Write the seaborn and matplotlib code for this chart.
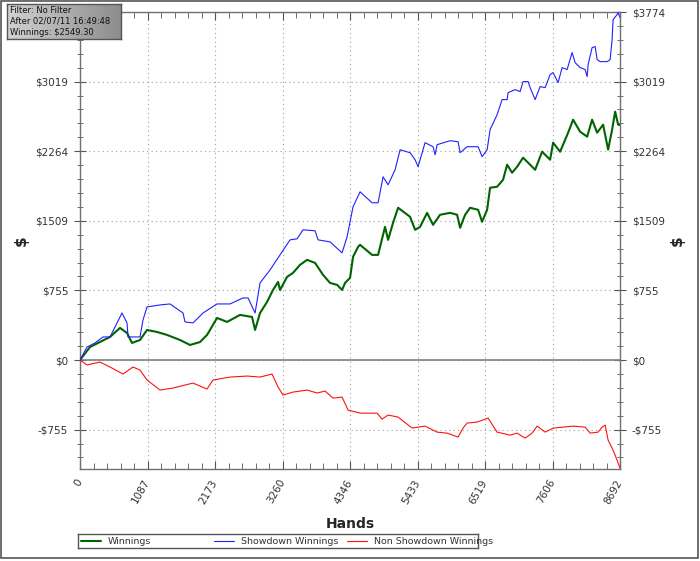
import numpy as np
import pandas as pd
import matplotlib
matplotlib.use("Agg")
import matplotlib.pyplot as plt
from matplotlib.patches import Rectangle
from matplotlib.ticker import MultipleLocator
import seaborn as sns

# values (hands, dollars)
blue_hands = [0, 113, 242, 370, 483, 644, 676, 757, 773, 966, 1014, 1079, 1288, 1449, 1658, 1690,
              1819, 1980, 2206, 2415, 2624, 2705, 2818, 2898, 3059, 3188, 3381, 3494, 3590, 3784,
              3832, 4025, 4218, 4299, 4395, 4508, 4701, 4798, 4878, 4959, 5072, 5152, 5313, 5394,
              5442, 5554, 5683, 5716, 5748, 5957, 6086, 6118, 6231, 6408, 6472, 6553, 6601, 6714,
              6794, 6875, 6891, 7004, 7084, 7132, 7213, 7245, 7326, 7406, 7487, 7567, 7615, 7696,
              7760, 7841, 7921, 7970, 8050, 8131, 8163, 8179, 8243, 8292, 8324, 8372, 8485, 8533,
              8565, 8581, 8646, 8662, 8692]
blue_vals = [0, 141, 185, 250, 250, 467, 510, 402, 250, 250, 434, 576, 597, 608, 510, 413,
             402, 510, 608, 608, 673, 673, 510, 836, 977, 1108, 1303, 1314, 1412, 1401,
             1303, 1281, 1162, 1336, 1662, 1824, 1705, 1705, 1987, 1900, 2063, 2280, 2248, 2172,
             2096, 2357, 2313, 2226, 2335, 2378, 2367, 2248, 2313, 2313, 2205, 2280, 2498, 2661,
             2824, 2824, 2900, 2932, 2911, 3019, 3019, 2954, 2824, 2965, 2954, 3095, 3117, 3008,
             3171, 3150, 3334, 3225, 3171, 3150, 3073, 3204, 3388, 3399, 3258, 3236, 3236, 3258,
             3475, 3692, 3746, 3768, 3714]

green_hands = [0, 161, 483, 644, 757, 837, 966, 1079, 1240, 1401, 1610, 1771, 1932, 2045, 2206,
               2367, 2576, 2769, 2818, 2898, 3011, 3107, 3188, 3220, 3333, 3429, 3542, 3655, 3784,
               3912, 4025, 4138, 4218, 4267, 4347, 4395, 4476, 4508, 4701, 4798, 4910, 4959, 5039,
               5120, 5313, 5394, 5474, 5587, 5683, 5796, 5957, 6070, 6118, 6199, 6279, 6408, 6472,
               6553, 6601, 6714, 6810, 6875, 6955, 7036, 7132, 7245, 7326, 7438, 7567, 7615, 7728,
               7857, 7937, 8050, 8163, 8243, 8324, 8420, 8501, 8565, 8614, 8662, 8692]
green_vals = [0, 141, 250, 348, 293, 185, 217, 326, 304, 272, 217, 163, 195, 272, 456,
              413, 489, 467, 326, 510, 630, 760, 847, 760, 901, 945, 1032, 1086, 1053,
              923, 836, 815, 760, 836, 891, 1119, 1227, 1249, 1140, 1140, 1444, 1303, 1488,
              1651, 1553, 1412, 1444, 1596, 1466, 1575, 1596, 1575, 1434, 1575, 1651, 1629, 1499,
              1629, 1868, 1879, 1955, 2118, 2031, 2096, 2194, 2118, 2063, 2259, 2172, 2357, 2259,
              2465, 2606, 2476, 2422, 2606, 2465, 2552, 2281, 2498, 2693, 2552, 2549]

red_hands = [0, 113, 322, 483, 692, 853, 966, 1079, 1288, 1497, 1819, 2045, 2141, 2415, 2689,
             2898, 3091, 3188, 3268, 3429, 3655, 3816, 3945, 4073, 4218, 4315, 4508, 4782, 4862,
             4959, 5120, 5345, 5554, 5748, 5909, 6086, 6166, 6231, 6392, 6569, 6714, 6923, 7036,
             7165, 7277, 7358, 7487, 7615, 7776, 7937, 8131, 8211, 8340, 8404, 8453, 8501, 8565,
             8614, 8692]
red_vals = [0, -54, -22, -76, -152, -76, -109, -217, -326, -304, -250, -315, -217, -185, -174,
            -185, -152, -293, -380, -348, -326, -358, -337, -413, -402, -543, -576, -576, -641,
            -597, -619, -738, -717, -782, -793, -836, -738, -684, -673, -630, -782, -815, -793,
            -847, -793, -717, -782, -738, -728, -717, -728, -793, -782, -728, -706, -869, -956,
            -1032, -1173]

x_ticks = [0, 1086.5, 2173, 3259.5, 4346, 5432.5, 6519, 7605.5, 8692]
x_labels = ["0", "1087", "2173", "3260", "4346", "5433", "6519", "7606", "8692"]
y_ticks = [-754.7, 0, 754.7, 1509.4, 2264.1, 3018.8, 3773.5]
y_labels = ["-$755", "$0", "$755", "$1509", "$2264", "$3019", "$3774"]

series = [
    ("Winnings", green_hands, green_vals, "#006400", 1.5),
    ("Showdown Winnings", blue_hands, blue_vals, "#2020ff", 0.8),
    ("Non Showdown Winnings", red_hands, red_vals, "#ff1010", 0.8),
]

sns.set_style("white")
plt.rcParams["font.family"] = ["DejaVu Sans"]

fig = plt.figure(figsize=(7.0, 5.61), dpi=100)
ax = fig.add_axes([80 / 700, 1 - 469 / 561, 540 / 700, 457 / 561])

for name, hx, hy, col, lw in series:
    df = pd.DataFrame({"Hands": hx, "Dollars": hy})
    sns.lineplot(data=df, x="Hands", y="Dollars", ax=ax, color=col, linewidth=lw,
                 estimator=None, sort=False, zorder=3)

ax.axhline(0, color="#808080", linewidth=1.2, zorder=2)
ax.set_xlim(0, 8692)
ax.set_ylim(-1182, 3774)

ax.set_xticks(x_ticks)
ax.set_xticklabels(x_labels, rotation=60, ha="right", va="center", rotation_mode="anchor",
                   fontsize=7.5, color="#333333")
ax.xaxis.set_minor_locator(MultipleLocator(1086.5 / 5))
ax.set_yticks(y_ticks)
ax.set_yticklabels(y_labels, fontsize=7.5, color="#333333")
ax.yaxis.set_minor_locator(MultipleLocator(754.7 / 5))

ax.tick_params(axis="x", which="both", direction="in", top=True, bottom=True, color="#555555")
ax.tick_params(axis="x", which="major", length=6, pad=8)
ax.tick_params(axis="x", which="minor", length=4)
ax.tick_params(axis="y", which="both", direction="inout", left=True, right=True,
               labelright=True, color="#555555")
ax.tick_params(axis="y", which="major", length=9, pad=4)
ax.tick_params(axis="y", which="minor", length=5)

# the top left label sits under the info box in the original
ax.yaxis.get_major_ticks()[-1].label1.set_visible(False)

ax.grid(True, which="major", color="#a0a0a0", linestyle=(0, (1, 3)), linewidth=0.8)
for s in ax.spines.values():
    s.set_color("#707070")
    s.set_linewidth(1.0)

ax.set_xlabel("Hands", fontsize=10, fontweight="bold")
ax.xaxis.set_label_coords(0.5, -0.105)
ax.set_ylabel("")
fig.text(21 / 700, 1 - 241 / 561, "$", rotation=90, fontsize=11, fontweight="bold",
         ha="center", va="center")
fig.text(677 / 700, 1 - 241 / 561, "$", rotation=90, fontsize=11, fontweight="bold",
         ha="center", va="center")

# legend strip
lax = fig.add_axes([78 / 700, 1 - 548 / 561, 400 / 700, 14 / 561])
lax.set_xlim(0, 400)
lax.set_ylim(0, 1)
lax.set_xticks([])
lax.set_yticks([])
for s in lax.spines.values():
    s.set_color("#555555")
    s.set_linewidth(1.0)
for i, (name, hx, hy, col, lw) in enumerate(series):
    x0 = 3 + i * 133
    lax.plot([x0, x0 + 20], [0.5, 0.5], color=col, linewidth=lw)
    lax.text(x0 + 27, 0.5, name, fontsize=6.8, va="center", ha="left", color="#333333")

# info box with gradient
iax = fig.add_axes([7 / 700, 1 - 39 / 561, 114 / 700, 35 / 561])
grad = np.linspace(0.82, 0.55, 200).reshape(1, -1)
iax.imshow(grad, cmap="gray", vmin=0, vmax=1, aspect="auto", extent=(0, 1, 0, 1))
iax.set_xticks([])
iax.set_yticks([])
for s in iax.spines.values():
    s.set_color("#555555")
    s.set_linewidth(1.0)
info_lines = ["Filter: No Filter", "After 02/07/11 16:49:48", "Winnings: $2549.30"]
for k, t in enumerate(info_lines):
    iax.text(0.03, 0.82 - k * 0.32, t, fontsize=6.0, va="center", ha="left", color="#111111",
             transform=iax.transAxes)

fig.patches.append(Rectangle((1 / 700, 3 / 561), 697 / 700, 557 / 561, transform=fig.transFigure,
                             fill=False, edgecolor="#555555", linewidth=1.2))

fig.savefig("out.png", dpi=100)
